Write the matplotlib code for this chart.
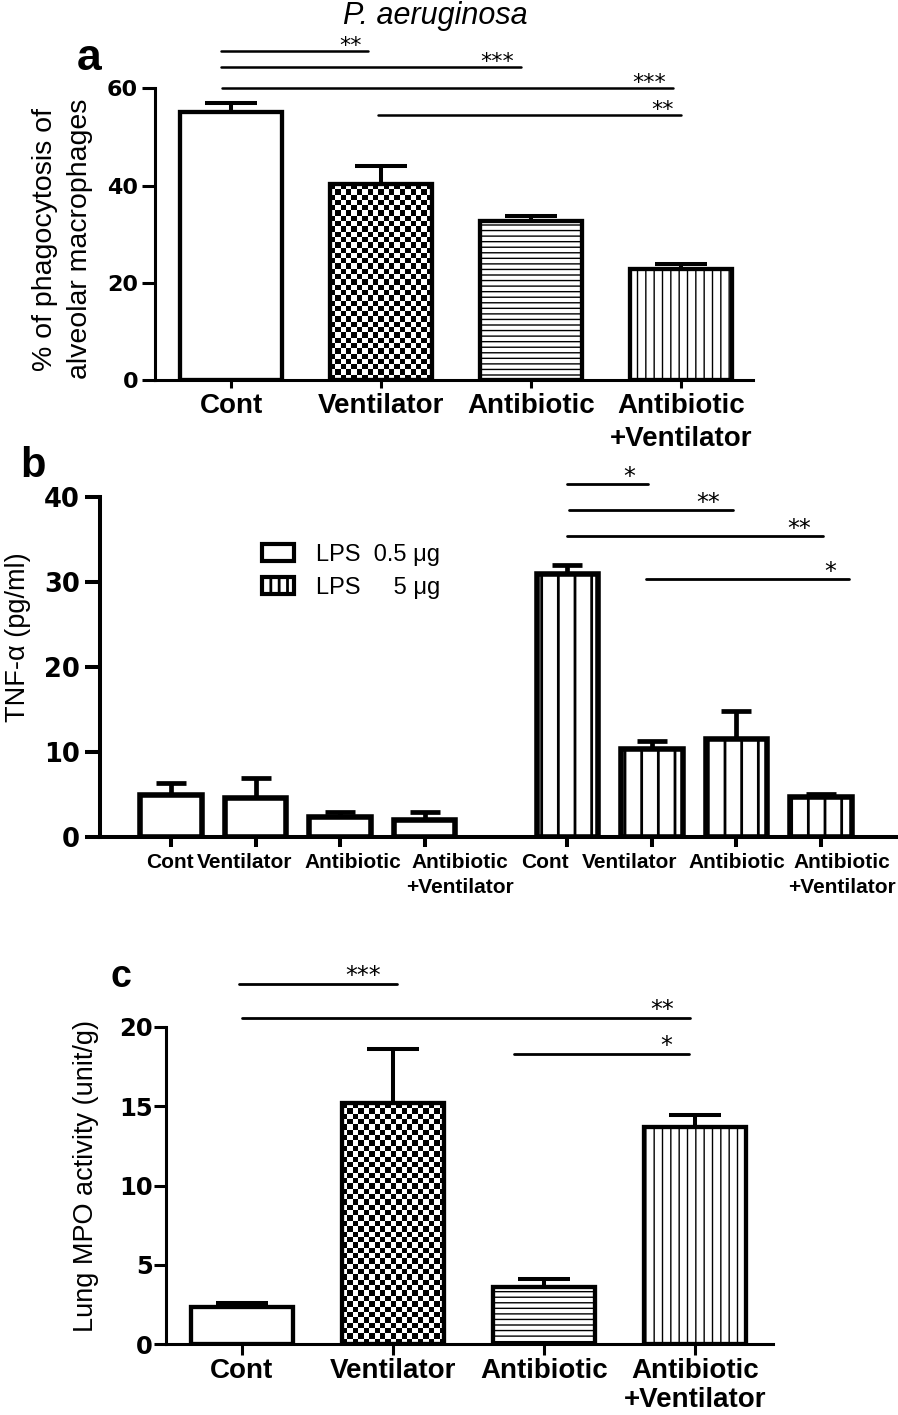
import numpy as np
import matplotlib
matplotlib.use("Agg")
import matplotlib.pyplot as plt
from matplotlib.patches import Patch
from matplotlib.transforms import ScaledTranslation

# ---------------- data ----------------
groups = ["Cont", "Ventilator", "Antibiotic", "Antibiotic\n+Ventilator"]

phago_mean = [55.1, 40.3, 32.7, 22.8]
phago_sem = [1.9, 3.7, 1.0, 1.1]

tnf_low_mean = [4.9, 4.55, 2.4, 2.0]
tnf_low_sem = [1.45, 2.35, 0.6, 1.0]
tnf_high_mean = [30.9, 10.3, 11.5, 4.7]
tnf_high_sem = [1.05, 1.0, 3.35, 0.35]

mpo_mean = [2.35, 15.2, 3.6, 13.7]
mpo_sem = [0.25, 3.4, 0.5, 0.75]

legend_labels = ["LPS  0.5 \u03bcg", "LPS     5 \u03bcg"]

a_yticks = [0, 20, 40, 60]
b_yticks = [0, 10, 20, 30, 40]
c_yticks = [0, 5, 10, 15, 20]

# significance brackets: (group i, group j, height in data units, label)
sig_a = [(0, 1, 67.7, "**"), (0, 2, 64.4, "***"), (0, 3, 60.1, "***"), (1, 3, 54.5, "**")]
sig_b = [(0, 1, 41.5, "*"), (0, 2, 38.5, "**"), (0, 3, 35.4, "**"), (1, 3, 30.4, "*")]  # LPS 5 ug group
sig_c = [(0, 1, 22.7, "***"), (0, 3, 20.55, "**"), (2, 3, 18.27, "*")]

title = "P. aeruginosa"
ylabel_a = "% of phagocytosis of\nalveolar macrophages"
ylabel_b = "TNF-\u03b1 (pg/ml)"
ylabel_c = "Lung MPO activity (unit/g)"

# ---------------- style ----------------
plt.rcParams['font.family'] = ['Liberation Sans', 'DejaVu Sans']
W, H = 898, 1415
fig = plt.figure(figsize=(W / 100, H / 100), dpi=100)


def add_axes_px(left, right, top, bottom):
    return fig.add_axes([left / W, 1 - bottom / H, (right - left) / W, (bottom - top) / H])


def style_axes(ax, lw, ytl, xtl, ysize, xsize, ypad, xpad, yticks, xticks, xlabels, linesp):
    for s in ['top', 'right']:
        ax.spines[s].set_visible(False)
    for s in ['left', 'bottom']:
        ax.spines[s].set_linewidth(lw)
    ax.set_yticks(yticks)
    ax.set_yticklabels([str(t) for t in yticks], fontfamily='DejaVu Sans', fontweight='bold', fontsize=ysize)
    ax.set_xticks(xticks)
    ax.set_xticklabels(xlabels, fontweight='bold', fontsize=xsize)
    for lab in ax.get_xticklabels():
        lab.set_linespacing(linesp)
    ax.tick_params(axis='y', length=ytl, width=lw, pad=ypad)
    ax.tick_params(axis='x', length=xtl, width=lw, pad=xpad)


def checker_fill(ax, bar, cell_px=5.3):
    x0, y0, w, h = bar.get_x(), bar.get_y(), bar.get_width(), bar.get_height()
    p0 = ax.transData.transform((x0, y0))
    p1 = ax.transData.transform((x0 + w, y0 + h))
    nx = max(1, int(round(abs(p1[0] - p0[0]) / cell_px)))
    ny = max(1, int(round(abs(p1[1] - p0[1]) / cell_px)))
    arr = np.add.outer(np.arange(ny), np.arange(nx)) % 2
    im = ax.imshow(arr, cmap='gray', vmin=0, vmax=1, extent=(x0, x0 + w, y0, y0 + h),
                   origin='lower', interpolation='nearest', aspect='auto', zorder=1.5)
    im.set_clip_path(bar)


def draw_bars(ax, x, mean, sem, width, hatches, checker, edge_lw, err_lw, capsize, hatch_lw):
    plt.rcParams['hatch.linewidth'] = hatch_lw
    faces = ['none' if c else 'white' for c in checker]
    bars = ax.bar(x, mean, width, color=faces, edgecolor='black', linewidth=edge_lw, zorder=3)
    for b, h in zip(bars, hatches):
        if h:
            b.set_hatch(h)
        if hasattr(b, 'set_hatch_linewidth'):
            b.set_hatch_linewidth(hatch_lw)
    eb = ax.errorbar(x, mean, yerr=[np.zeros(len(mean)), sem], fmt='none', ecolor='black',
                     elinewidth=err_lw, capsize=capsize, capthick=err_lw, zorder=2.5)
    caps = eb[1]
    if len(caps) >= 2:
        caps[0].set_visible(False)
    return bars


def draw_sig(ax, pos, sig, start_pad, end_pad, lw, fsize, star_dx, star_dy):
    for (i, j, y, lab), sp, ep in zip(sig, start_pad, end_pad):
        xs, xe = pos[i] + sp, pos[j] + ep
        ax.plot([xs, xe], [y, y], color='black', lw=lw, clip_on=False, solid_capstyle='round')
        ax.annotate(lab, xy=(xe, y), xytext=(star_dx, star_dy), textcoords='offset points',
                    ha='right', va='baseline', fontsize=fsize, fontfamily='DejaVu Sans',
                    annotation_clip=False)


# ---------------- panel a ----------------
axA = add_axes_px(155, 753, 88.3, 380)
xa = np.arange(len(groups))
axA.set_xlim(-0.507, 3.48)
axA.set_ylim(0, 60)
style_axes(axA, 2.2, 9.4, 5.8, 16, 20, 2.7, 3.6, a_yticks, xa, groups, 1.35)
barsA = draw_bars(axA, xa, phago_mean, phago_sem, 0.68, [None, None, '---', '||'],
                  [False, True, False, False], 3.1, 2.9, 19, 1.0)
checker_fill(axA, barsA[1])
axA.set_xlim(-0.507, 3.48)
axA.set_ylim(0, 60)
draw_sig(axA, xa, sig_a, [-0.065, -0.065, -0.06, -0.02], [-0.085, -0.07, -0.055, 0.0],
         1.8, 16, -5, -1)
axA.set_ylabel(ylabel_a, fontsize=20.5, linespacing=1.45, va='center')
axA.yaxis.set_label_coords(-0.154, 0.483)

# ---------------- panel b ----------------
axB = add_axes_px(100, 897, 497, 837)
xb_low = np.arange(4)
xb_high = np.arange(4) + 4.69
axB.set_xlim(-0.84, 8.59)
axB.set_ylim(0, 40)
style_axes(axB, 2.9, 10.8, 7.2, 18.5, 15, 3.5, 4, b_yticks,
           np.concatenate([xb_low, xb_high]), groups + groups, 1.45)
draw_bars(axB, xb_low, tnf_low_mean, tnf_low_sem, 0.73, [None] * 4, [False] * 4, 4.0, 3.4, 11, 2.0)
draw_bars(axB, xb_high, tnf_high_mean, tnf_high_sem, 0.73, ['|'] * 4, [False] * 4, 4.0, 3.4, 11, 2.0)
axB.set_xlim(-0.84, 8.59)
axB.set_ylim(0, 40)
draw_sig(axB, xb_high, sig_b, [0.0, 0.02, 0.0, -0.07], [-0.05, -0.04, 0.03, 0.33],
         2.0, 17, -9, 0)
label_dx = [-1, -11, 13, 35, -22, -22, 0, 21]
for lab, dx in zip(axB.get_xticklabels(), label_dx):
    lab.set_transform(lab.get_transform() + ScaledTranslation(dx / 100, 0, fig.dpi_scale_trans))
axB.set_ylabel(ylabel_b, fontsize=19.5, va='center')
axB.yaxis.set_label_coords(-0.103, 0.587)
handles = [Patch(facecolor='white', edgecolor='black', linewidth=3),
           Patch(facecolor='white', edgecolor='black', linewidth=3, hatch='||')]
axB.legend(handles, legend_labels, loc='upper left', bbox_to_anchor=(0.203, 0.862),
           frameon=False, fontsize=17, handlelength=1.36, handleheight=0.76,
           handletextpad=0.93, labelspacing=0.45, borderpad=0, borderaxespad=0)

# ---------------- panel c ----------------
axC = add_axes_px(166, 773, 1027, 1344)
xc = np.arange(len(groups))
axC.set_xlim(-0.503, 3.517)
axC.set_ylim(0, 20)
style_axes(axC, 2.2, 9, 8, 17.5, 20, 0.5, 1.8, c_yticks, xc, groups, 1.15)
barsC = draw_bars(axC, xc, mpo_mean, mpo_sem, 0.68, [None, None, '---', '||'],
                  [False, True, False, False], 3.1, 2.9, 19, 1.0)
checker_fill(axC, barsC[1])
axC.set_xlim(-0.503, 3.517)
axC.set_ylim(0, 20)
draw_sig(axC, xc, sig_c, [-0.02, 0.0, -0.2], [0.03, -0.03, -0.04], 2.0, 17, -12, 1)
axC.set_ylabel(ylabel_c, fontsize=19.5, va='center')
axC.yaxis.set_label_coords(-0.132, 0.53)

# ---------------- panel letters and title ----------------
fig.text(89 / W, 1 - 70 / H, 'a', ha='center', va='baseline', fontsize=32, fontweight='bold')
fig.text(33 / W, 1 - 477 / H, 'b', ha='center', va='baseline', fontsize=30, fontweight='bold')
fig.text(121 / W, 1 - 987 / H, 'c', ha='center', va='baseline', fontsize=27, fontweight='bold')
fig.text(435 / W, 1 - 24 / H, title, ha='center', va='baseline', fontsize=22, style='italic')

fig.savefig('out.png', dpi=100)
